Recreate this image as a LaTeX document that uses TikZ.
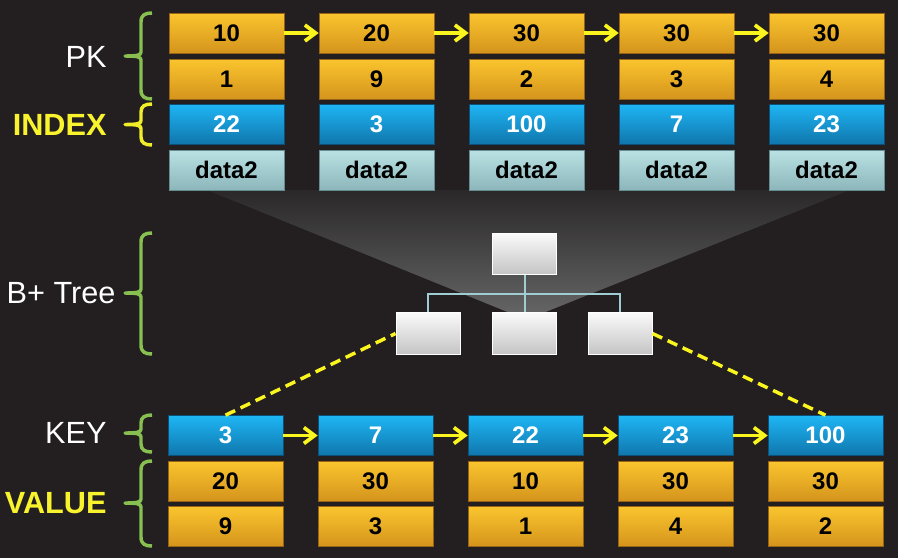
\documentclass[tikz,border=0pt]{standalone}
\usepackage{fontspec}
\setmainfont{Liberation Sans}
\usetikzlibrary{arrows.meta}

\definecolor{bgdark}{RGB}{35,31,32}
\definecolor{orangetop}{RGB}{250,197,46}
\definecolor{orangebot}{RGB}{213,148,28}
\definecolor{orangeline}{RGB}{150,100,20}
\definecolor{bluetop}{RGB}{30,182,245}
\definecolor{bluebot}{RGB}{16,118,172}
\definecolor{blueline}{RGB}{10,80,120}
\definecolor{tealtop}{RGB}{186,226,229}
\definecolor{tealbot}{RGB}{140,182,186}
\definecolor{tealline}{RGB}{100,140,145}
\definecolor{nodetop}{RGB}{250,250,250}
\definecolor{nodebot}{RGB}{196,196,196}
\definecolor{treeline}{RGB}{160,205,210}
\definecolor{linkyellow}{RGB}{250,245,30}
\definecolor{bracegreen}{RGB}{135,192,80}
\definecolor{braceyellow}{RGB}{240,238,40}
\definecolor{labelyellow}{RGB}{248,243,45}
\definecolor{glowtop}{RGB}{42,40,41}
\definecolor{glowbot}{RGB}{100,100,100}

\tikzset{every picture/.style={line width=0.75pt}}
\tikzset{
  cell/.style={minimum width=86.25pt,minimum height=30pt,inner sep=0pt,line width=0.5pt,font=\bfseries\fontsize{18}{20}\selectfont},
  orangecell/.style={cell,draw=orangeline,top color=orangetop,bottom color=orangebot,text=black},
  bluecell/.style={cell,draw=blueline,top color=bluetop,bottom color=bluebot,text=white},
  tealcell/.style={cell,draw=tealline,top color=tealtop,bottom color=tealbot,text=black},
  treebox/.style={draw=white,line width=0.75pt,top color=nodetop,bottom color=nodebot,minimum width=48pt,minimum height=31pt,inner sep=0pt},
  linkarrow/.style={draw=linkyellow,line width=2.8pt,-{Straight Barb[length=8pt,width=12pt]}},
  leafdash/.style={draw=linkyellow,line width=2.6pt,dash pattern=on 8pt off 4.5pt},
  treewire/.style={draw=treeline,line width=1.5pt},
  curly/.style={line width=2.6pt,line join=round},
  sidelabel/.style={anchor=east,inner sep=0pt,font=\fontsize{23}{26}\selectfont}
}

\begin{document}
\begin{tikzpicture}[x=0.75pt,y=0.75pt,yscale=-1]
%background
\useasboundingbox (0,0) rectangle (898,558);
\fill[bgdark] (0,0) rectangle (898,558);

%Shape: glow under the leaf rows
\shade[top color=glowtop,bottom color=glowbot] (207,190) -- (850,190) -- (543,313) -- (510,313) -- cycle ;

%top rows: PK / INDEX / data
\node[orangecell] (ka1) at (226.5,33) {10};
\node[orangecell] (ka2) at (376.5,33) {20};
\node[orangecell] (ka3) at (526.5,33) {30};
\node[orangecell] (ka4) at (676.5,33) {30};
\node[orangecell] (ka5) at (826.5,33) {30};
\node[orangecell] (kb1) at (226.5,79) {1};
\node[orangecell] (kb2) at (376.5,79) {9};
\node[orangecell] (kb3) at (526.5,79) {2};
\node[orangecell] (kb4) at (676.5,79) {3};
\node[orangecell] (kb5) at (826.5,79) {4};
\node[bluecell] (ix1) at (226.5,124) {22};
\node[bluecell] (ix2) at (376.5,124) {3};
\node[bluecell] (ix3) at (526.5,124) {100};
\node[bluecell] (ix4) at (676.5,124) {7};
\node[bluecell] (ix5) at (826.5,124) {23};
\node[tealcell] (dt1) at (226.5,170) {data2};
\node[tealcell] (dt2) at (376.5,170) {data2};
\node[tealcell] (dt3) at (526.5,170) {data2};
\node[tealcell] (dt4) at (676.5,170) {data2};
\node[tealcell] (dt5) at (826.5,170) {data2};

%B+ tree
\node[treebox] (root) at (524.5,254) {};
\node[treebox] (leafL) at (428,333.5) {};
\node[treebox] (leafM) at (524.5,333.5) {};
\node[treebox] (leafR) at (620,333.5) {};
\coordinate (bus) at (524.5,294);

%bottom rows: KEY / VALUE
\node[bluecell] (key1) at (225.5,435.5) {3};
\node[bluecell] (key2) at (375.5,435.5) {7};
\node[bluecell] (key3) at (525.5,435.5) {22};
\node[bluecell] (key4) at (675.5,435.5) {23};
\node[bluecell] (key5) at (825.5,435.5) {100};
\node[orangecell] (va1) at (225.5,481) {20};
\node[orangecell] (va2) at (375.5,481) {30};
\node[orangecell] (va3) at (525.5,481) {10};
\node[orangecell] (va4) at (675.5,481) {30};
\node[orangecell] (va5) at (825.5,481) {30};
\node[orangecell] (vb1) at (225.5,526.5) {9};
\node[orangecell] (vb2) at (375.5,526.5) {3};
\node[orangecell] (vb3) at (525.5,526.5) {1};
\node[orangecell] (vb4) at (675.5,526.5) {4};
\node[orangecell] (vb5) at (825.5,526.5) {2};

%tree wires
\draw[treewire] (root.south) -- (bus) ;
\draw[treewire] (leafL.north) |- (bus) -| (leafR.north) ;
\draw[treewire] (bus) -- (leafM.north) ;

%leaf links
\draw[leafdash] (key1.north) -- (leafL.west) ;
\draw[leafdash] (leafR.east) -- (key5.north) ;

%next pointers
\draw[linkarrow] (ka1.east) -- (ka2.west) ;
\draw[linkarrow] (ka2.east) -- (ka3.west) ;
\draw[linkarrow] (ka3.east) -- (ka4.west) ;
\draw[linkarrow] (ka4.east) -- (ka5.west) ;
\draw[linkarrow] (key1.east) -- (key2.west) ;
\draw[linkarrow] (key2.east) -- (key3.west) ;
\draw[linkarrow] (key3.east) -- (key4.west) ;
\draw[linkarrow] (key4.east) -- (key5.west) ;

%Shape: Brace PK
\draw[curly,bracegreen] (152,13) .. controls (145,13) and (141,15) .. (141,22) -- (141,52) .. controls (141,55) and (138,56) .. (125,56) .. controls (138,56) and (141,57) .. (141,60) -- (141,90) .. controls (141,97) and (145,99) .. (152,99) ;
%Shape: Brace INDEX
\draw[curly,braceyellow] (152,104) .. controls (145,104) and (141,106) .. (141,112) -- (141,120.5) .. controls (141,123.5) and (138,124.5) .. (125,124.5) .. controls (138,124.5) and (141,125.5) .. (141,128.5) -- (141,137) .. controls (141,143) and (145,145) .. (152,145) ;
%Shape: Brace B+ Tree
\draw[curly,bracegreen] (152,233) .. controls (145,233) and (141,235) .. (141,242) -- (141,289) .. controls (141,292) and (138,293) .. (125,293) .. controls (138,293) and (141,294) .. (141,297) -- (141,345) .. controls (141,352) and (145,354) .. (152,354) ;
%Shape: Brace KEY
\draw[curly,bracegreen] (152,415) .. controls (145,415) and (141,417) .. (141,423) -- (141,429) .. controls (141,432) and (138,433) .. (125,433) .. controls (138,433) and (141,434) .. (141,437) -- (141,444) .. controls (141,450) and (145,452) .. (152,452) ;
%Shape: Brace VALUE
\draw[curly,bracegreen] (152,461) .. controls (145,461) and (141,463) .. (141,470) -- (141,499) .. controls (141,502) and (138,503) .. (125,503) .. controls (138,503) and (141,504) .. (141,507) -- (141,537) .. controls (141,544) and (145,546) .. (152,546) ;

% Text Node
\node[sidelabel,text=white] (pklbl) at (107,57) {PK};
% Text Node
\node[sidelabel,text=labelyellow,font=\bfseries\fontsize{23}{26}\selectfont] (idxlbl) at (107,125) {INDEX};
% Text Node
\node[sidelabel,text=white] (treelbl) at (116,293) {B+ Tree};
% Text Node
\node[sidelabel,text=white] (keylbl) at (107,433) {KEY};
% Text Node
\node[sidelabel,text=labelyellow,font=\bfseries\fontsize{23}{26}\selectfont] (vallbl) at (107,503) {VALUE};

\end{tikzpicture}
\end{document}
